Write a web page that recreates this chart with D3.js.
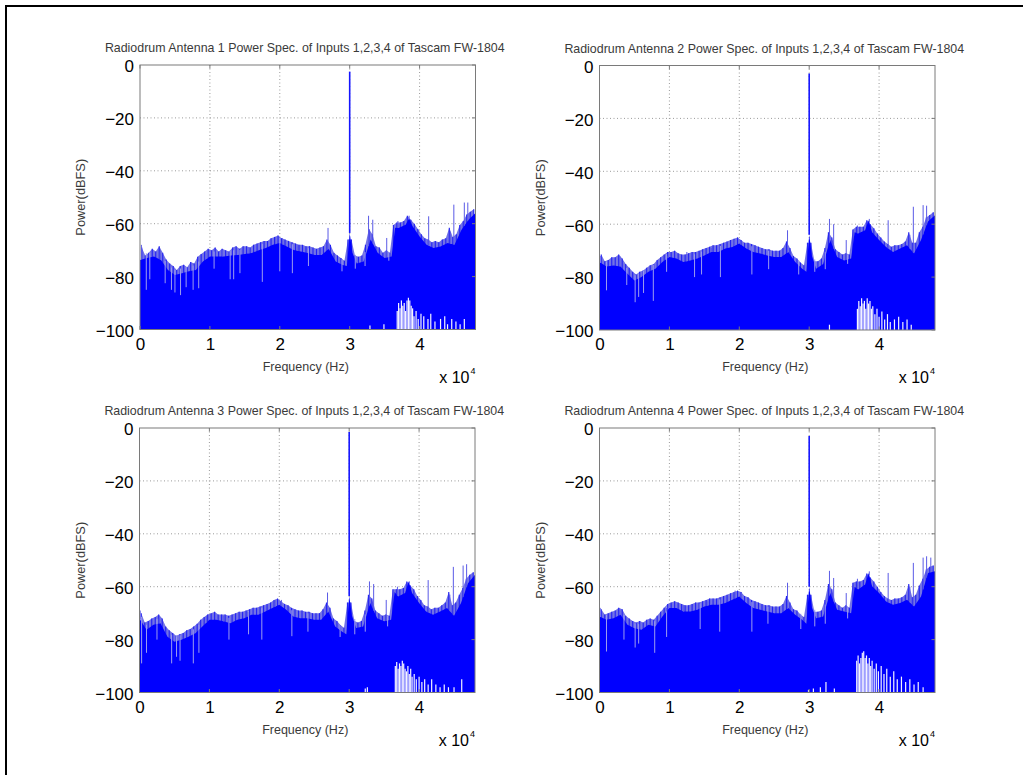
<!DOCTYPE html>
<html><head><meta charset="utf-8">
<script src="https://cdn.jsdelivr.net/npm/d3@7"></script>
<style>
body{margin:0;background:#fff;}
svg{display:block;font-family:"Liberation Sans",Arial,Helvetica,sans-serif;}
</style>
</head><body>
<svg id="c" width="1023" height="775"></svg>
<script>
// ---------- data (frequency in kHz, power in dBFS) ----------
// solid noise level
const freqKHz = [0,1,2,3,4,5,6,7,8,9,10,11,12,13,14,15,16,17,18,19,20,21,22,23,24,25,26,27,28,29,
  29.6,30,30.4,31,32,33,34,35,36,36.5,37,38,38.5,39,40,41,42,43,44,45,46,47,48];

const power1 = [-73.7,-73,-72.4,-73.7,-77.5,-79.4,-78.7,-78,-77.5,-74.3,
  -72.4,-72.4,-72.4,-72,-71.8,-71.5,-71.1,-70,-69.2,-68,
  -67.3,-68.6,-69.9,-70.5,-71.1,-71.8,-71.8,-69.5,-74.3,-75.6,
  -76,-63.5,-71,
  -75,-74.3,-66,-71,-73,-72.4,
  -61.5,-61.6,
  -60.4,-58,
  -61,-64.8,-68,-69.2,-68.6,-67.3,-68,-62.3,-58.5,-56];
const power2 = [-74.3,-76,-75.6,-76,-78.7,-81.3,-80,-78,-76.8,-74.3,
  -72.4,-73,-74.3,-73.7,-73,-71.8,-70.5,-70.5,-69.2,-68.6,
  -67.3,-69.2,-70.5,-71.1,-71.8,-72.4,-72.4,-70.5,-74.3,-76.8,
  -78,-64,-72,
  -76.8,-75,-66,-72.4,-73.7,-73,
  -63,-63.5,
  -62.3,-58.5,
  -63,-66,-68.6,-70.5,-69.2,-68,-71.1,-66,-59,-56.6];
const power3 = [-72,-76.3,-74.4,-73.8,-78.9,-80.8,-80.1,-78.9,-77.6,-75,
  -72.5,-72.5,-73.1,-73.8,-72.5,-71.9,-70.6,-70.6,-69.4,-68.1,
  -66.8,-68.7,-71.3,-71.9,-71.9,-72.5,-72.5,-69.4,-75,-77,
  -78,-63.5,-71,
  -75.6,-75,-66.2,-71.9,-73.1,-72.5,
  -62,-63.7,
  -62.4,-58,
  -62.4,-66.2,-69.4,-70.6,-69.4,-68.1,-71,-66.2,-58.7,-55.5];
const power4 = [-71.3,-72.5,-71.9,-70.6,-74.4,-75.7,-76.3,-74.4,-75,-71.3,
  -68.1,-68.1,-69.4,-69.4,-68.7,-67.5,-66.8,-66.8,-66.2,-64.9,
  -63.7,-66.2,-68.1,-68.7,-69.4,-70,-70,-68.1,-70.6,-72.5,
  -74,-60,-68,
  -71.9,-71.3,-62.4,-68.7,-69.4,-70,
  -60,-61.1,
  -59.2,-54.8,
  -59.8,-62.4,-65.6,-66.8,-66.2,-64.9,-67.5,-63.7,-54.8,-54.2];

// per-bin maxima (bins 0.5 kHz wide, centred at 0.25, 0.75, ... kHz)
const binKHz = [0.25,0.75,1.25,1.75,2.25,2.75,3.25,3.75,4.25,4.75,5.25,5.75,6.25,6.75,7.25,7.75,8.25,8.75,9.25,9.75,
  10.25,10.75,11.25,11.75,12.25,12.75,13.25,13.75,14.25,14.75,15.25,15.75,16.25,16.75,17.25,17.75,18.25,18.75,19.25,19.75,
  20.25,20.75,21.25,21.75,22.25,22.75,23.25,23.75,24.25,24.75,25.25,25.75,26.25,26.75,27.25,27.75,28.25,28.75,29.25,29.75,
  30.25,30.75,31.25,31.75,32.25,32.75,33.25,33.75,34.25,34.75,35.25,35.75,36.25,36.75,37.25,37.75,38.25,38.75,39.25,39.75,
  40.25,40.75,41.25,41.75,42.25,42.75,43.25,43.75,44.25,44.75,45.25,45.75,46.25,46.75,47.25,47.75];
const peak1 = [-69,-72,-71,-69.5,-70.5,-68.5,-71,-73.5,-75,-76,-77.5,-76,-75.5,-76.5,-74.5,-75,-72.5,-71.5,-70.5,-69.5,
  -70,-69,-70.5,-69.5,-70,-70.5,-69,-68.5,-69.5,-68.5,-68.5,-69,-68,-67.5,-67,-66.5,-66.5,-65.5,-65,-64.5,
  -65.5,-66,-66.5,-67,-67.5,-68,-68,-68.5,-68.5,-69,-69.5,-69,-68.5,-66,-68,-71,-72,-73,-74,-66,
  -66,-72,-72.5,-72,-68,-62,-64,-68.5,-69,-71,-70,-71,-60.5,-59.5,-59.5,-59,-57,-58.5,-60,-62,
  -64,-65.5,-66,-67,-66.5,-67,-66,-65.5,-61.5,-65,-64,-60.5,-59,-56.5,-55.5,-54.5];
const peak2 = [-71.5,-74,-73.5,-72.5,-72.5,-71.5,-73,-75,-76.5,-78,-79,-78,-77.5,-76.5,-75.5,-75,-73.5,-72.5,-71.5,-70.5,
  -70.5,-70,-71,-71.5,-71.5,-71,-70.5,-70.5,-70,-69.5,-69,-68.5,-68,-68,-67.5,-67,-66.5,-66,-65.5,-65,
  -66,-67,-67,-67.5,-68,-68.5,-69,-69.5,-69.5,-70,-70,-70,-69,-66.5,-69,-72,-73,-74.5,-75.5,-67,
  -67,-74,-74,-73,-69,-63,-65,-69.5,-70.5,-71.5,-71,-71.5,-62,-61,-61,-61,-58.5,-60,-61.5,-63.5,
  -65,-66.5,-67.5,-68.5,-68,-68,-67.5,-66.5,-63,-67,-67,-63,-61,-57.5,-56.5,-55.5];
const peak3 = [-70,-73.5,-73,-72,-71.5,-70.5,-72,-75,-76.5,-77.5,-78.5,-78,-77.5,-76.5,-76,-75,-74,-72.5,-71.5,-70.5,
  -70,-69.5,-70.5,-70.5,-70.5,-71,-70.5,-70,-69.5,-69.5,-69,-68.5,-68,-68,-67.5,-67,-66.5,-66,-65,-64.5,
  -65.5,-66.5,-67,-68,-68.5,-69,-69,-69.5,-69.5,-70,-70,-70,-68.5,-66,-68,-72,-73,-74.5,-75.5,-66,
  -66,-73,-73.5,-73,-69,-63,-64.5,-69,-70,-71,-70.5,-71,-61,-61,-61,-60.5,-58,-59.5,-61,-63.5,
  -65,-67,-67.5,-68.5,-68,-68,-67,-66,-62,-67,-66,-63,-60.5,-57,-55.5,-54.5];
const peak4 = [-68.5,-70.5,-70,-69.5,-69,-68,-68.5,-71,-72,-73,-73.5,-73,-73.5,-72.5,-72,-72.5,-71,-69.5,-68,-66.5,
  -66,-65.5,-66,-66.5,-67,-67,-66.5,-66,-66,-65.5,-65,-64.5,-64.5,-64.5,-64,-63.5,-63,-62.5,-62,-61.5,
  -62,-63.5,-64,-65,-65.5,-66,-66.5,-67,-67,-67.5,-67.5,-67.5,-66.5,-63.5,-66,-68.5,-69,-70.5,-71.5,-63,
  -63,-69.5,-69.5,-69,-65,-59,-61,-66,-67,-68,-67,-68,-58.5,-58,-58,-57.5,-55,-56.5,-58,-60,
  -62,-63.5,-64.5,-65,-64.5,-64.5,-64,-63,-59,-64,-63,-59.5,-57,-53.5,-52.5,-52];

// isolated narrow peaks [kHz, dBFS]
const spikes1 = [[0.2,-68],[2.9,-70],[9.6,-71],[11.8,-70],[15.6,-69],[19.4,-65],[20.4,-65.5],[22.5,-68],[26.9,-61.6],[30,-2.5],[32.7,-57],[33.3,-58.5],[35.3,-65.4],[36.9,-59],[38.5,-57],[41.3,-57.2],[44.4,-63],[44.9,-52.8],[46.4,-52],[46.9,-52]];
const spikes2 = [[0.1,-72],[2.9,-72],[9.8,-72],[12.5,-70.5],[16,-69],[19.3,-66],[20.2,-66.5],[26.9,-62.3],[30,-3],[32.9,-58],[33.5,-60],[35.3,-66],[36.9,-60.5],[38.6,-58],[41.3,-58.5],[44.4,-64],[44.9,-53.4],[46.3,-52.8],[46.8,-53]];
const spikes3 = [[0.1,-69],[2.8,-72],[9.6,-71],[12,-71],[15.5,-69.5],[19.4,-65],[20.3,-65],[26.9,-62.2],[30,-1.5],[32.9,-58],[33.5,-59],[35.3,-65],[36.9,-60],[38.6,-58],[41.3,-57.5],[44.4,-63],[44.9,-52.5],[46.3,-52],[46.8,-51.5]];
const spikes4 = [[0.1,-68],[2.9,-69],[9.6,-68],[12,-67],[15.5,-65.5],[19.4,-61.5],[20.3,-62],[26.9,-58.5],[30,-3],[32.9,-54],[33.5,-56.7],[35.3,-62.4],[36.9,-57],[38.6,-54.2],[41.3,-54.8],[44.4,-60],[44.9,-51],[46.3,-49],[46.8,-48.5],[47.4,-49]];

// narrow dips from the noise top [kHz, dBFS]
const notches1 = [[0.9,-85],[1.4,-81],[3.6,-82.5],[4.5,-85],[5,-86],[5.8,-87],[6.6,-84],[7.6,-85],[8.4,-84.4],[10.6,-77],[12.9,-81],[13.4,-81],[14.3,-78.7],[17.5,-82],[20,-78],[21.8,-78.7],[24.1,-76],[28.9,-78],[30.8,-77],[32.2,-76],[35.6,-74]];
const notches2 = [[1,-85],[3.9,-83],[5.1,-89.5],[5.6,-87.5],[6.3,-86],[7.7,-89],[9.6,-78],[13.6,-80],[14.6,-79],[17.3,-80],[21.8,-79],[24.2,-77],[28.5,-79],[30.8,-78],[32.3,-77],[35.5,-75]];
const notches3 = [[0.3,-89],[1,-85],[2.5,-80],[4.6,-89],[5.3,-86.5],[5.8,-88],[7.7,-89],[8.5,-85],[12.8,-80],[15.6,-78],[17.5,-80],[21.8,-78.7],[24.1,-77],[28.7,-79],[30.8,-78],[32.3,-77],[35.5,-75]];
const notches4 = [[1,-84.5],[3.5,-80],[5.1,-83],[5.6,-81.5],[7.9,-85],[9.6,-79],[14.4,-76],[17.2,-77],[21.8,-77],[24.1,-74],[28.8,-76],[30.8,-75],[32.3,-74],[35.5,-72]];

// bins whose minimum stays above the floor (white gaps from the bottom) [kHz, dBFS]
const gaps1 = [[32.9,-98.5],[34.9,-98],[36.8,-93],[37.0,-90],[37.2,-92],[37.4,-89],[37.6,-91],[37.8,-90],[38.0,-93],[38.2,-89],[38.4,-88],[38.6,-89],[38.8,-91],[39.0,-92],[39.2,-95],[39.5,-93],[39.8,-96],[40.2,-94],[40.6,-95],[41.2,-96],[41.6,-94],[42.2,-97],[43.0,-96],[43.6,-95],[44.0,-98],[44.6,-96],[45.2,-97],[45.8,-98],[46.4,-96]];
const gaps2 = [[32.9,-98],[36.9,-92],[37.1,-89],[37.3,-91],[37.5,-88],[37.7,-90],[37.9,-89],[38.1,-92],[38.3,-88],[38.5,-90],[38.7,-89],[38.9,-92],[39.1,-91],[39.4,-94],[39.7,-92],[40.0,-95],[40.4,-93],[40.8,-96],[41.2,-94],[41.6,-97],[42.2,-96],[42.8,-95],[43.4,-97],[44.0,-96],[44.6,-98]];
const gaps3 = [[32.3,-98.5],[32.6,-98],[36.6,-90],[36.8,-88.5],[37.0,-91],[37.2,-89],[37.4,-90],[37.6,-88],[37.8,-89],[38.0,-91],[38.2,-92],[38.4,-90],[38.6,-93],[38.8,-91],[39.0,-94],[39.3,-93],[39.6,-95],[40.0,-94],[40.4,-96],[40.8,-95],[41.3,-97],[41.8,-95],[42.4,-97],[43.0,-98],[43.6,-97],[44.2,-98],[45.0,-98],[46.1,-95]];
const gaps4 = [[29.9,-99],[30.6,-98.5],[31.6,-98],[32.4,-96],[33.6,-98.5],[36.8,-88],[37.0,-86],[37.2,-89],[37.4,-87],[37.6,-85],[37.8,-84.4],[38.0,-87],[38.2,-86],[38.4,-89],[38.6,-87],[38.8,-90],[39.0,-88],[39.3,-91],[39.6,-89],[39.9,-92],[40.3,-90],[40.7,-93],[41.1,-91],[41.6,-94],[42.1,-92],[42.6,-95],[43.2,-94],[43.8,-96],[44.4,-95],[45.0,-97],[45.6,-96],[46.3,-98]];

const titles = [
  "Radiodrum Antenna 1 Power Spec. of Inputs 1,2,3,4 of Tascam FW-1804",
  "Radiodrum Antenna 2 Power Spec. of Inputs 1,2,3,4 of Tascam FW-1804",
  "Radiodrum Antenna 3 Power Spec. of Inputs 1,2,3,4 of Tascam FW-1804",
  "Radiodrum Antenna 4 Power Spec. of Inputs 1,2,3,4 of Tascam FW-1804"
];
const xTicks = [0,10000,20000,30000,40000];
const xTickLabels = ["0","1","2","3","4"];
const yTicks = [0,-20,-40,-60,-80,-100];
const xLabel = "Frequency (Hz)";
const yLabel = "Power(dBFS)";
const xDomain = [0,48000];
const yDomain = [-100,0];

// ---------- drawing ----------
const svg = d3.select("#c");
svg.append("rect").attr("width",1023).attr("height",775).attr("fill","#fff");
svg.append("line").attr("x1",5).attr("x2",1023).attr("y1",6).attr("y2",6).attr("stroke","#000").attr("stroke-width",2);
svg.append("line").attr("x1",6).attr("x2",6).attr("y1",5).attr("y2",775).attr("stroke","#000").attr("stroke-width",2);

const panels = [
  {vals:power1, peaks:peak1, spikes:spikes1, notches:notches1, gaps:gaps1, left:140, top:65},
  {vals:power2, peaks:peak2, spikes:spikes2, notches:notches2, gaps:gaps2, left:599.5, top:65.5},
  {vals:power3, peaks:peak3, spikes:spikes3, notches:notches3, gaps:gaps3, left:139.5, top:428},
  {vals:power4, peaks:peak4, spikes:spikes4, notches:notches4, gaps:gaps4, left:599.5, top:428}
];
const W = 335.5, H = 264.5;

panels.forEach((p,i)=>{
  const g = svg.append("g").attr("transform",`translate(${p.left},${p.top})`);
  const x = d3.scaleLinear().domain(xDomain).range([0,W]);
  const y = d3.scaleLinear().domain(yDomain).range([H,0]);
  const env = d3.scaleLinear().domain(freqKHz).range(p.vals);

  // grid
  g.append("g").selectAll("line").data(xTicks.slice(1)).join("line")
    .attr("x1",d=>x(d)).attr("x2",d=>x(d)).attr("y1",0).attr("y2",H)
    .attr("stroke","#9a9a9a").attr("stroke-width",1).attr("stroke-dasharray","1,2.5");
  g.append("g").selectAll("line").data(yTicks.slice(1,-1)).join("line")
    .attr("x1",0).attr("x2",W).attr("y1",d=>y(d)).attr("y2",d=>y(d))
    .attr("stroke","#9a9a9a").attr("stroke-width",1).attr("stroke-dasharray","1,2.5");

  // per-bin maxima: pale band plus striations
  const peakArea = d3.area().x((d,k)=>x(binKHz[k]*1000)).y0(y(-100)).y1(d=>y(d));
  g.append("path").datum(p.peaks).attr("d",peakArea).attr("fill","#7272e6");
  g.append("g").selectAll("line").data(p.peaks).join("line")
    .attr("x1",(d,k)=>x(binKHz[k]*1000)).attr("x2",(d,k)=>x(binKHz[k]*1000))
    .attr("y1",y(-100)).attr("y2",d=>y(d))
    .attr("stroke","#2222f4").attr("stroke-width",1.1);

  // solid noise fill
  const area = d3.area().x((d,k)=>x(freqKHz[k]*1000)).y0(y(-100)).y1(d=>y(d));
  g.append("path").datum(p.vals).attr("d",area).attr("fill","#0000ff");

  // dips
  g.append("g").selectAll("line").data(p.notches).join("line")
    .attr("x1",d=>x(d[0]*1000)).attr("x2",d=>x(d[0]*1000))
    .attr("y1",d=>y(env(d[0]))-5).attr("y2",d=>y(d[1]))
    .attr("stroke","#9c9cee").attr("stroke-width",1);

  // white gaps above floor
  g.append("g").selectAll("line").data(p.gaps).join("line")
    .attr("x1",d=>x(d[0]*1000)).attr("x2",d=>x(d[0]*1000))
    .attr("y1",y(-100)).attr("y2",d=>y(d[1]))
    .attr("stroke","#f4f4ff").attr("stroke-width",1.2);

  // spikes
  g.append("g").selectAll("line").data(p.spikes).join("line")
    .attr("x1",d=>x(d[0]*1000)).attr("x2",d=>x(d[0]*1000))
    .attr("y1",d=>y(env(d[0]))).attr("y2",d=>y(d[1]))
    .attr("stroke",d=>d[1]>-30?"#1515ff":"#5a5ae6").attr("stroke-width",d=>d[1]>-30?1.6:1);

  // box
  g.append("rect").attr("width",W).attr("height",H).attr("fill","none")
    .attr("stroke","#7a7a7a").attr("stroke-width",1);
  const tk = 3.5;
  g.append("g").selectAll("line").data(xTicks).join("line")
    .attr("x1",d=>x(d)).attr("x2",d=>x(d)).attr("y1",H).attr("y2",H-tk).attr("stroke","#7a7a7a");
  g.append("g").selectAll("line").data(xTicks).join("line")
    .attr("x1",d=>x(d)).attr("x2",d=>x(d)).attr("y1",0).attr("y2",tk).attr("stroke","#7a7a7a");
  g.append("g").selectAll("line").data(yTicks).join("line")
    .attr("x1",W).attr("x2",W-tk).attr("y1",d=>y(d)).attr("y2",d=>y(d)).attr("stroke","#7a7a7a");

  const ya = g.append("g").call(d3.axisLeft(y).tickValues(yTicks).tickSize(0).tickPadding(6).tickFormat(d3.format("d")));
  ya.select(".domain").remove();
  ya.selectAll("text").attr("font-size","17px").attr("fill","#000")
    .attr("font-family","'Liberation Sans',Arial,sans-serif").attr("dy","0.4em");
  const xa = g.append("g").attr("transform",`translate(0,${H})`)
    .call(d3.axisBottom(x).tickValues(xTicks).tickSize(0).tickPadding(8).tickFormat((d,k)=>xTickLabels[k]));
  xa.select(".domain").remove();
  xa.selectAll("text").attr("font-size","17px").attr("fill","#000")
    .attr("font-family","'Liberation Sans',Arial,sans-serif");

  g.append("text").attr("x",W/2 - 3).attr("y",-13).attr("text-anchor","middle")
    .attr("font-size","12.4px").attr("fill","#3a3a3a").text(titles[i]);
  g.append("text").attr("x",W/2 - 2).attr("y",H+41).attr("text-anchor","middle")
    .attr("font-size","12.5px").attr("fill","#3a3a3a").text(xLabel);
  g.append("text").attr("transform",`translate(-55,${H/2}) rotate(-90)`).attr("text-anchor","middle")
    .attr("font-size","12.8px").attr("fill","#3a3a3a").text(yLabel);
  g.append("text").attr("x",W-6).attr("y",H+53).attr("text-anchor","end")
    .attr("font-size","16px").attr("fill","#000").text("x 10");
  g.append("text").attr("x",W-5).attr("y",H+44).attr("font-size","9px").attr("fill","#000").text("4");
});
</script>
</body></html>
